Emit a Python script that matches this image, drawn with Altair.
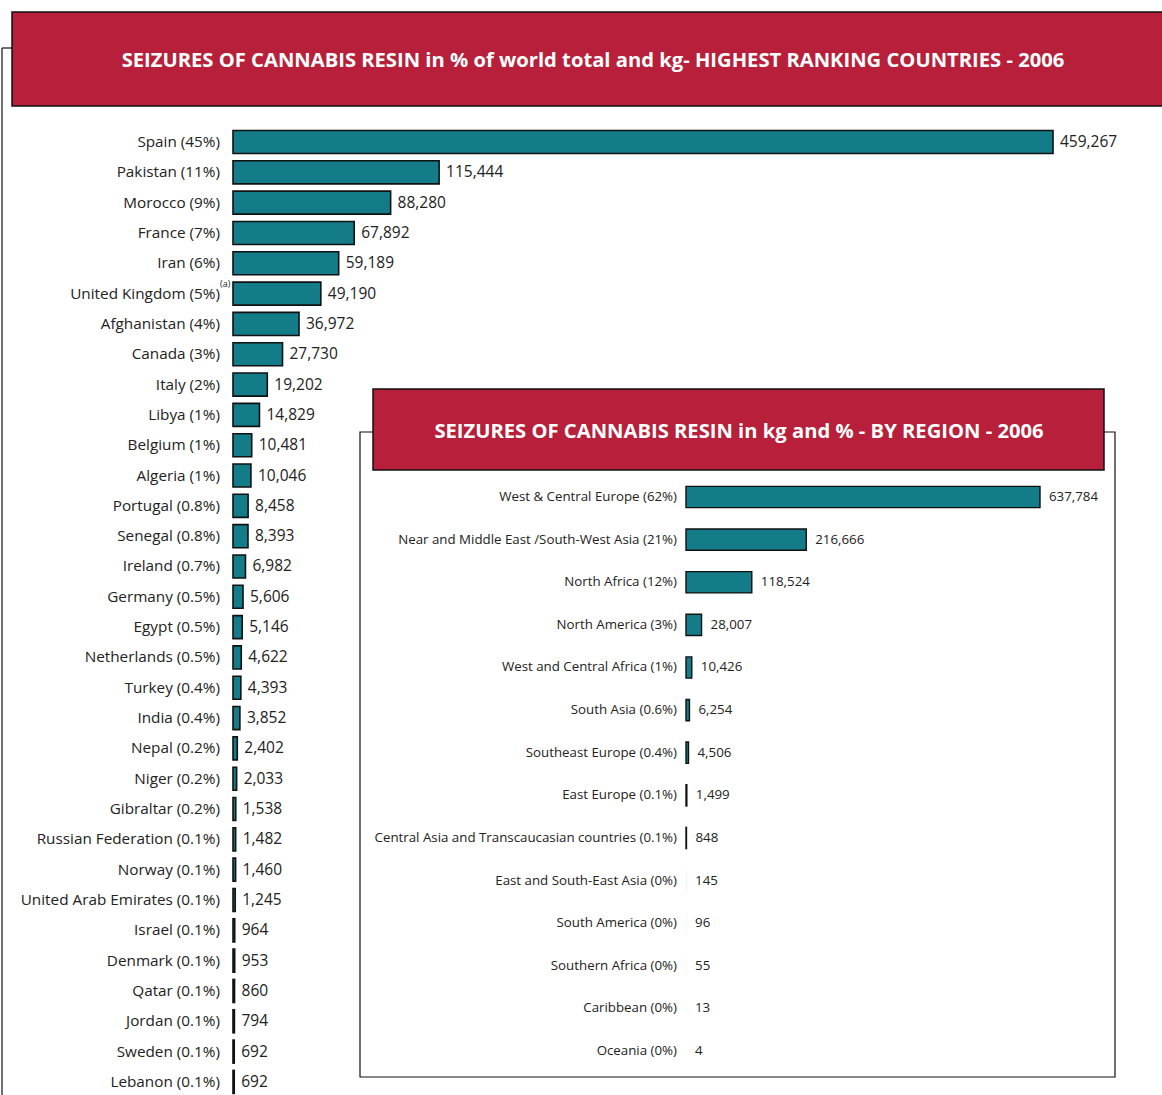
import altair as alt
import pandas as pd

# ---------------- data ----------------
countries = ["Spain", "Pakistan", "Morocco", "France", "Iran", "United Kingdom",
             "Afghanistan", "Canada", "Italy", "Libya", "Belgium", "Algeria",
             "Portugal", "Senegal", "Ireland", "Germany", "Egypt", "Netherlands",
             "Turkey", "India", "Nepal", "Niger", "Gibraltar", "Russian Federation",
             "Norway", "United Arab Emirates", "Israel", "Denmark", "Qatar",
             "Jordan", "Sweden", "Lebanon"]
country_share = ["45%", "11%", "9%", "7%", "6%", "5%", "4%", "3%", "2%", "1%",
                 "1%", "1%", "0.8%", "0.8%", "0.7%", "0.5%", "0.5%", "0.5%",
                 "0.4%", "0.4%", "0.2%", "0.2%", "0.2%", "0.1%", "0.1%", "0.1%",
                 "0.1%", "0.1%", "0.1%", "0.1%", "0.1%", "0.1%"]
country_kg = [459267, 115444, 88280, 67892, 59189, 49190, 36972, 27730, 19202,
              14829, 10481, 10046, 8458, 8393, 6982, 5606, 5146, 4622, 4393,
              3852, 2402, 2033, 1538, 1482, 1460, 1245, 964, 953, 860, 794,
              692, 692]

regions = ["West & Central Europe", "Near and Middle East /South-West Asia",
           "North Africa", "North America", "West and Central Africa",
           "South Asia", "Southeast Europe", "East Europe",
           "Central Asia  and Transcaucasian countries",
           "East and South-East Asia", "South America", "Southern Africa",
           "Caribbean", "Oceania"]
region_share = ["62%", "21%", "12%", "3%", "1%", "0.6%", "0.4%", "0.1%", "0.1%",
                "0%", "0%", "0%", "0%", "0%"]
region_kg = [637784, 216666, 118524, 28007, 10426, 6254, 4506, 1499, 848, 145,
             96, 55, 13, 4]

main_title = "SEIZURES OF CANNABIS RESIN in % of world total and kg- HIGHEST RANKING COUNTRIES - 2006"
inset_title = "SEIZURES OF CANNABIS RESIN in kg and % - BY REGION - 2006"
footnote_country = "United Kingdom"
footnote_mark = "(a)"

# ---------------- styling ----------------
RED = "#B81F3A"
TEAL = "#137C88"
TXT = "#222222"
FONT = "Open Sans"

cdf = pd.DataFrame({
    "country": countries,
    "label": [f"{c} ({s})" for c, s in zip(countries, country_share)],
    "kg": country_kg,
})
rdf = pd.DataFrame({
    "region": regions,
    "label": [f"{r} ({s})" for r, s in zip(regions, region_share)],
    "kg": region_kg,
})
fdf = pd.DataFrame({"label": [f"{footnote_country} ({country_share[countries.index(footnote_country)]})"],
                    "note": [footnote_mark]})

one = pd.DataFrame({"t": [main_title], "t2": [inset_title]})

# ---------------- main chart ----------------
n = len(countries)
step_m = 30.32
c0 = 142
y_main = alt.Y("label:N", sort=cdf["label"].tolist(), axis=None,
               scale=alt.Scale(range=[c0 - step_m / 2, c0 + step_m * (n - 0.5)],
                               paddingInner=0.24, paddingOuter=0.12))
x_main = alt.X("kg:Q", axis=None,
               scale=alt.Scale(domain=[0, 459267], range=[233, 1053], nice=False, zero=True))

m_bars = alt.Chart(cdf).mark_bar(fill=TEAL, stroke="#111111", strokeWidth=1.6).encode(
    x=x_main, y=y_main)
m_labels = alt.Chart(cdf).mark_text(align="right", baseline="middle", font=FONT,
                                    fontSize=15.3, color=TXT).encode(
    x=alt.value(220), y=y_main, text="label:N")
m_values = alt.Chart(cdf).mark_text(align="left", baseline="middle", font=FONT,
                                    fontSize=15.5, color=TXT, dx=7).encode(
    x=x_main, y=y_main, text=alt.Text("kg:Q", format=","))
m_note = alt.Chart(fdf).mark_text(align="left", baseline="middle", font=FONT,
                                  fontSize=9, color=TXT, dy=-10).encode(
    x=alt.value(220), y=y_main, text="note:N")
main = alt.layer(m_bars, m_labels, m_values, m_note)

# ---------------- inset chart ----------------
k = len(regions)
step_i = 42.62
r0 = 497
y_in = alt.Y("label:N", sort=rdf["label"].tolist(), axis=None,
             scale=alt.Scale(range=[r0 - step_i / 2, r0 + step_i * (k - 0.5)],
                             paddingInner=0.5, paddingOuter=0.25))
x_in = alt.X("kg:Q", axis=None,
             scale=alt.Scale(domain=[0, 637784], range=[686, 1040], nice=False, zero=True))

i_bars = alt.Chart(rdf).mark_bar(fill=TEAL, stroke="#111111", strokeWidth=1.4).encode(
    x=x_in, y=y_in,
    strokeOpacity=alt.condition(alt.datum.kg < 500, alt.value(0), alt.value(1)))
i_labels = alt.Chart(rdf).mark_text(align="right", baseline="middle", font=FONT,
                                    fontSize=13.3, color=TXT).encode(
    x=alt.value(677), y=y_in, text="label:N")
i_values = alt.Chart(rdf).mark_text(align="left", baseline="middle", font=FONT,
                                    fontSize=13.3, color=TXT, dx=9).encode(
    x=x_in, y=y_in, text=alt.Text("kg:Q", format=","))
inset = alt.layer(i_bars, i_labels, i_values)

# ---------------- decorations ----------------
base = alt.Chart(one)
frame_v = base.mark_rule(color="#111111", strokeWidth=1.2).encode(
    x=alt.value(2), y=alt.value(48), y2=alt.value(1095))
frame_h = base.mark_rule(color="#111111", strokeWidth=1.2).encode(
    x=alt.value(2), x2=alt.value(12), y=alt.value(48))
banner = base.mark_rect(fill=RED, stroke="#111111", strokeWidth=1.5).encode(
    x=alt.value(12), x2=alt.value(1170), y=alt.value(12), y2=alt.value(106))
banner_t = base.mark_text(font=FONT, fontSize=20.2, fontWeight="bold", color="white",
                          align="center", baseline="middle").encode(
    x=alt.value(593), y=alt.value(61), text="t:N")

inset_box = base.mark_rect(fill="white", stroke="#111111", strokeWidth=1.2).encode(
    x=alt.value(360), x2=alt.value(1115), y=alt.value(432), y2=alt.value(1077))
inset_banner = base.mark_rect(fill=RED, stroke="#111111", strokeWidth=1.5).encode(
    x=alt.value(373), x2=alt.value(1104), y=alt.value(389), y2=alt.value(470))
inset_t = base.mark_text(font=FONT, fontSize=20.2, fontWeight="bold", color="white",
                         align="center", baseline="middle").encode(
    x=alt.value(739), y=alt.value(432), text="t2:N")

chart = alt.layer(
    frame_v, frame_h, banner, banner_t, main,
    inset_box, inset_banner, inset_t, inset,
).resolve_scale(x="independent", y="independent").properties(
    width=1162, height=1095, padding=0,
    autosize=alt.AutoSizeParams(type="none"),
    background="white",
).configure_view(stroke=None)

chart.save("out.html", embed_options={"renderer": "svg", "actions": False})
